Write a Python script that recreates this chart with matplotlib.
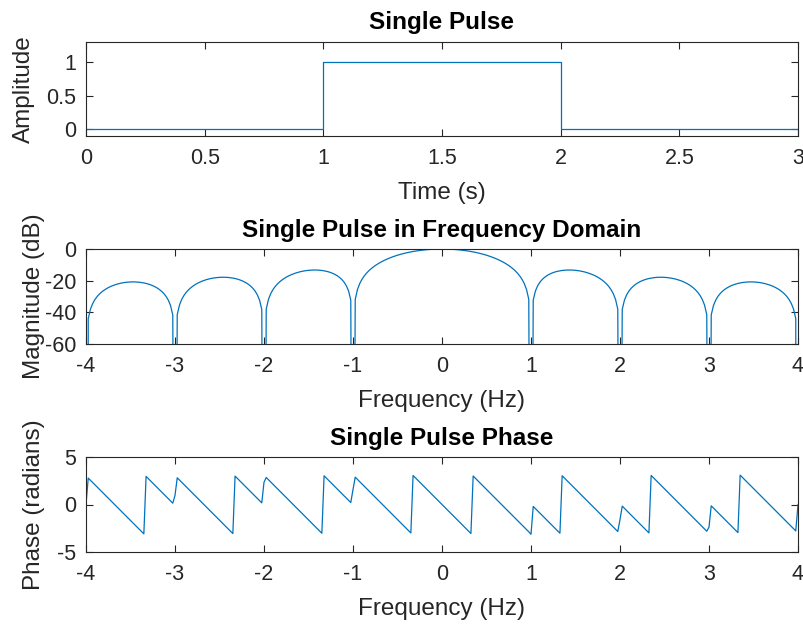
#!/usr/bin/env python3
# -*- coding: utf-8 -*-
"""
Single pulse: time domain, magnitude (dB) and phase of its spectrum
"""

import matplotlib
matplotlib.use('Agg')
import matplotlib.pyplot as plt
import numpy as np

#%% Dados =====================================================================
fs = 100                    # amostras por segundo
t_end = 3.0                 # duração do sinal (s)
pulse_on, pulse_off = 1.0, 2.0
pulse_amp = 1.0
nfft = 4000                 # passo em frequência fs/nfft = 0.025 Hz
f_max = 4

time_ticks = [0, 0.5, 1, 1.5, 2, 2.5, 3]
amp_ticks = [0, 0.5, 1]
freq_ticks = [-4, -3, -2, -1, 0, 1, 2, 3, 4]
mag_ticks = [-60, -40, -20, 0]
phase_ticks = [-5, 0, 5]

#%% Sinal e espectro ==========================================================
n = np.arange(int(round(t_end*fs)) + 1)
t = n/fs
x = np.where((t >= pulse_on) & (t < pulse_off), pulse_amp, 0.0)

X = np.fft.fftshift(np.fft.fft(x, nfft))
f = np.fft.fftshift(np.fft.fftfreq(nfft, 1/fs))
keep = np.abs(f) <= f_max + 1e-9
f, X = f[keep], X[keep]
mag_db = 20*np.log10(np.abs(X)/np.abs(X).max() + 1e-300)
phase = np.angle(X)

#%% Gráfico ===================================================================
plt.rcParams['font.family'] = ['Liberation Sans', 'DejaVu Sans']
plt.rcParams['axes.linewidth'] = 0.8
plt.rcParams['axes.edgecolor'] = '#262626'

cor = '#0072BD'
gray = '#262626'
W, H = 804, 625
fig = plt.figure(figsize=(W/100, H/100), dpi=100)

def eixo(top, bottom):
    ax = fig.add_axes([86/W, 1 - bottom/H, (798 - 86)/W, (bottom - top)/H])
    ax.tick_params(direction='in', top=True, right=True, length=5, width=0.8,
                   labelsize=15.5, colors=gray, pad=9)
    ax.tick_params(axis='y', pad=7)
    return ax

def textos(ax, titulo, xl, yl, yx):
    ax.set_title(titulo, fontsize=17.5, fontweight='bold', pad=9)
    ax.set_xlabel(xl, fontsize=17.5, color=gray, labelpad=9)
    ax.set_ylabel(yl, fontsize=17.5, color=gray)
    ax.yaxis.set_label_coords(yx, 0.5)
    ax.xaxis.set_major_formatter(plt.FuncFormatter(lambda v, p: '%g' % v))
    ax.yaxis.set_major_formatter(plt.FuncFormatter(lambda v, p: '%g' % v))

ax1 = eixo(42, 136)
ax1.plot(t, x, color=cor, lw=0.9, drawstyle='steps-post')
ax1.set_xlim(0, 3); ax1.set_ylim(-0.1, 1.3)
ax1.set_xticks(time_ticks); ax1.set_yticks(amp_ticks)
textos(ax1, 'Single Pulse', 'Time (s)', 'Amplitude', -0.071)

ax2 = eixo(249, 344)
ax2.plot(f, mag_db, color=cor, lw=0.9)
ax2.set_xlim(-4, 4); ax2.set_ylim(-60, 0)
ax2.set_xticks(freq_ticks); ax2.set_yticks(mag_ticks)
textos(ax2, 'Single Pulse in Frequency Domain', 'Frequency (Hz)', 'Magnitude (dB)', -0.058)

ax3 = eixo(457, 552)
ax3.plot(f, phase, color=cor, lw=0.9)
ax3.set_xlim(-4, 4); ax3.set_ylim(-5, 5)
ax3.set_xticks(freq_ticks); ax3.set_yticks(phase_ticks)
textos(ax3, 'Single Pulse Phase', 'Frequency (Hz)', 'Phase (radians)', -0.058)

fig.savefig('out.png', dpi=100)
